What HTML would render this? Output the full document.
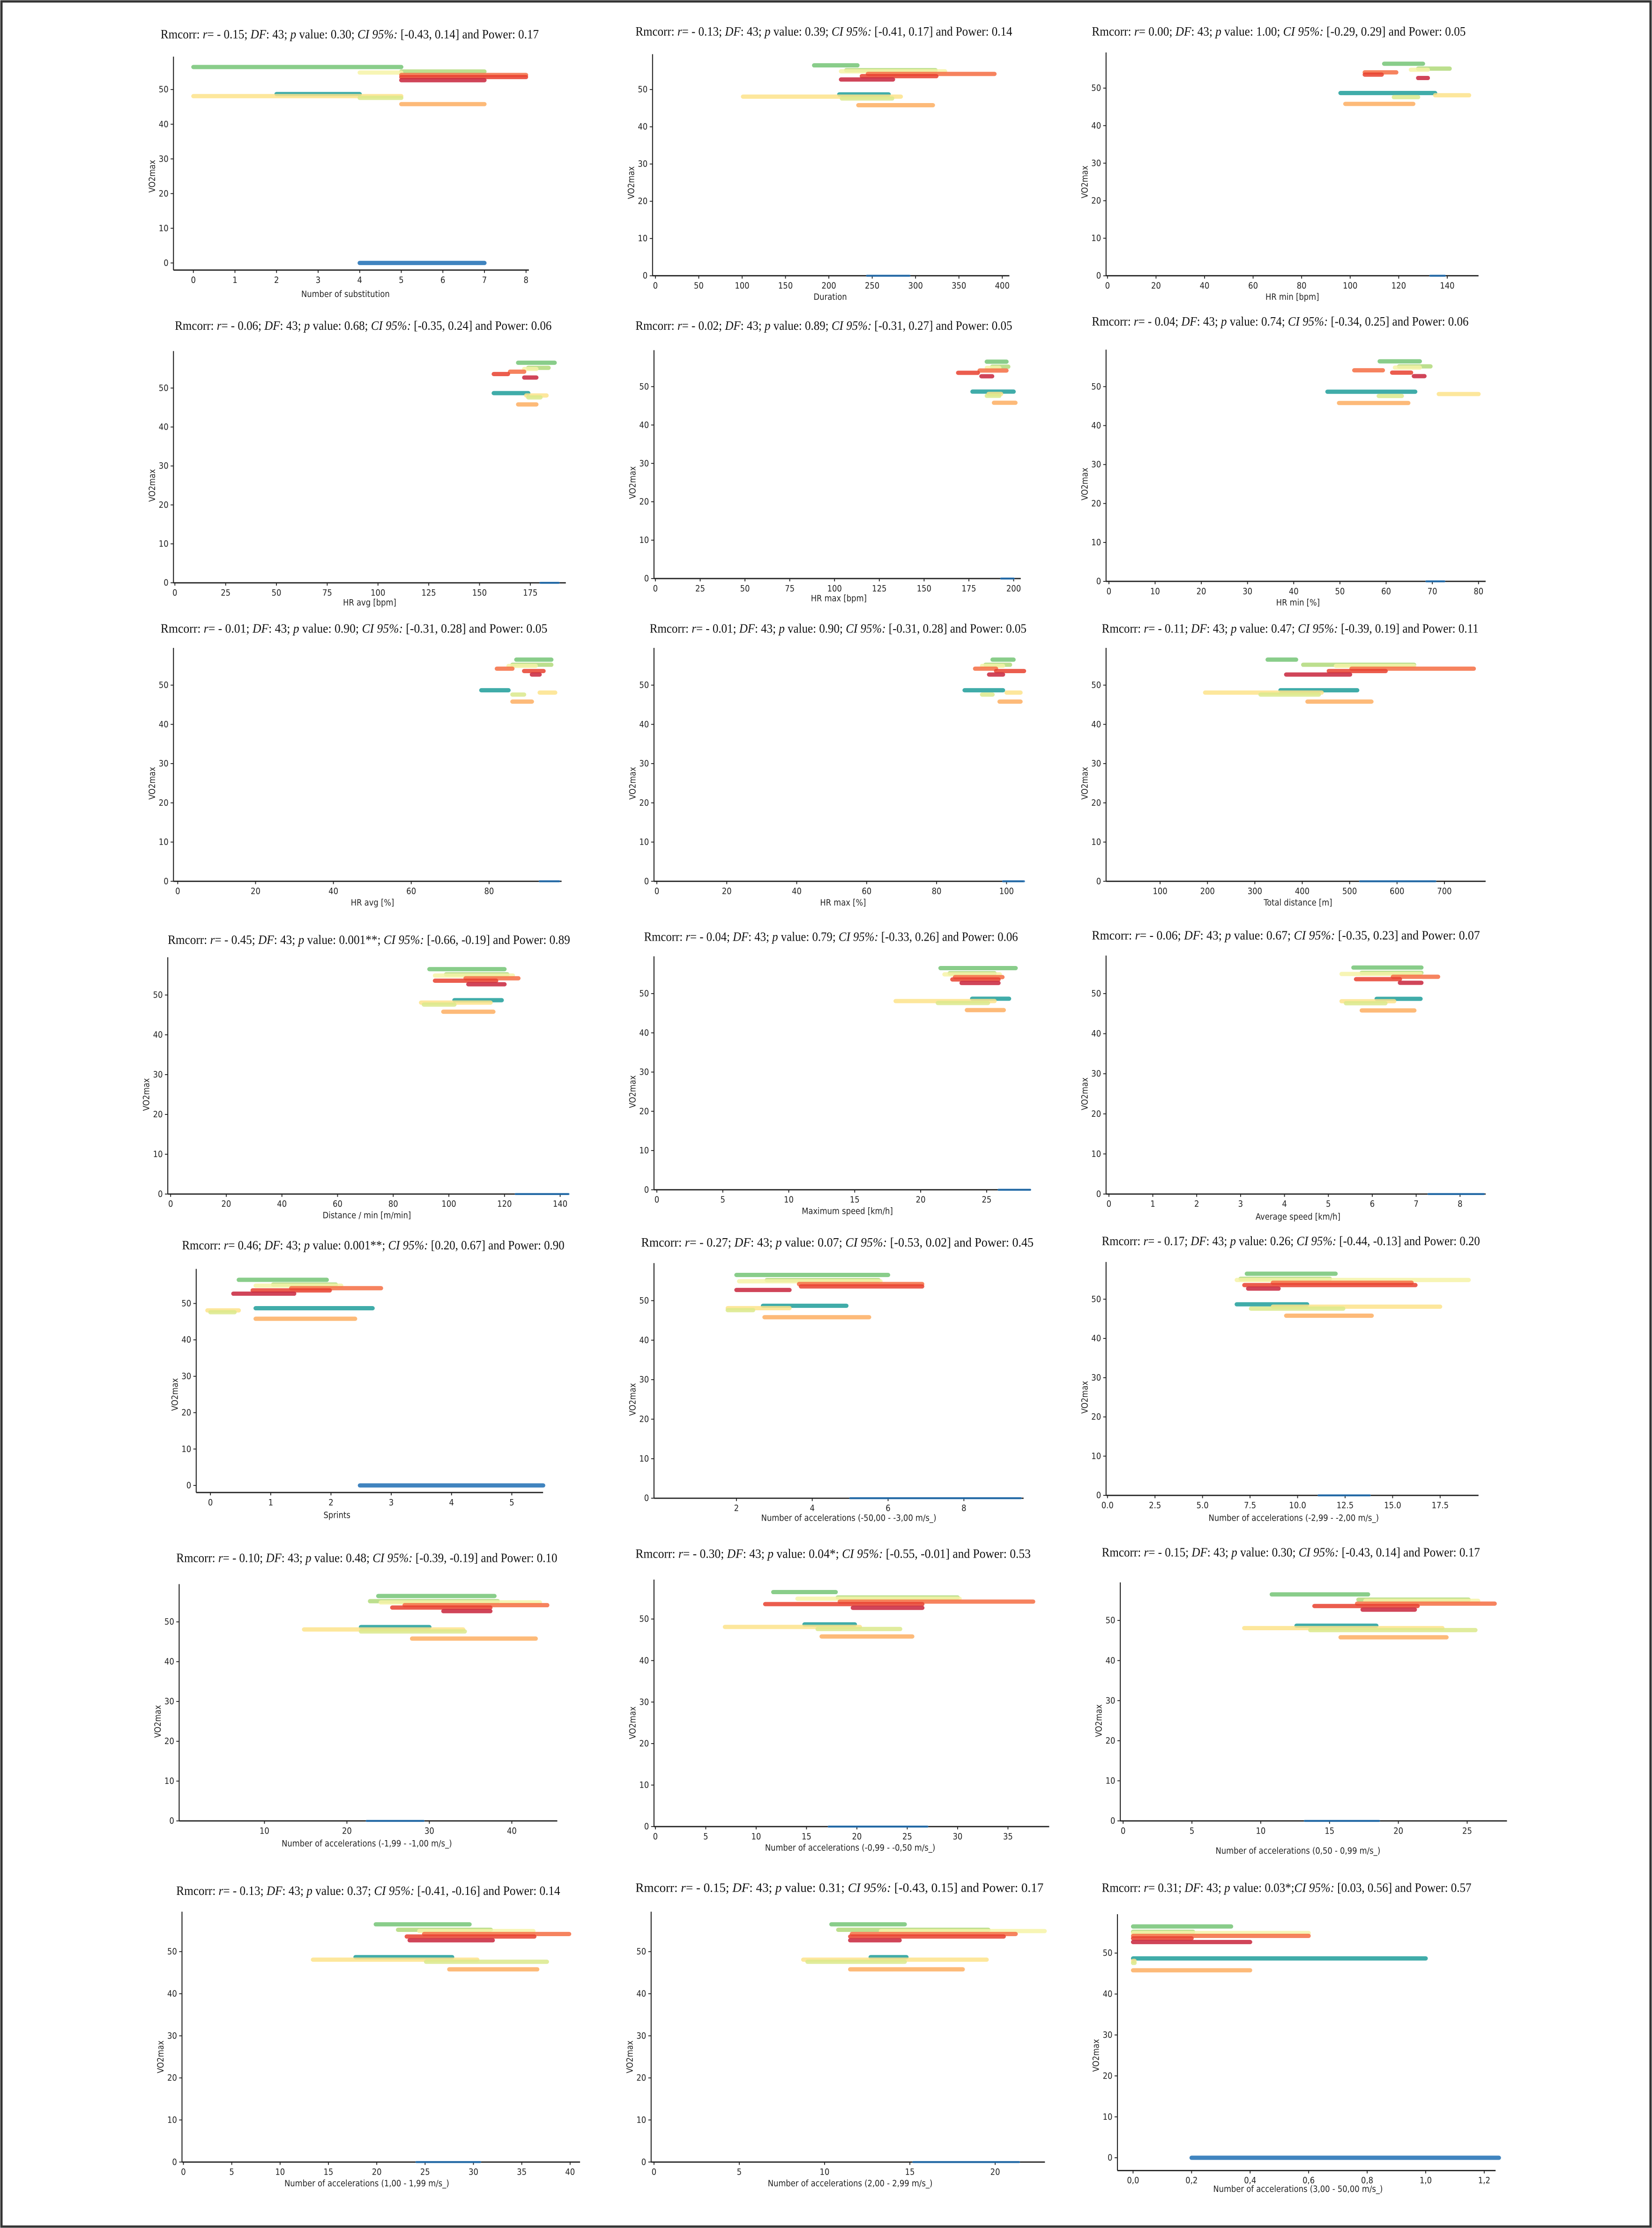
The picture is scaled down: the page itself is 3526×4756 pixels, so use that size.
<!DOCTYPE html>
<html><head><meta charset="utf-8"><style>
html,body{margin:0;padding:0;background:#fff;}
svg{display:block;}
</style></head><body>
<svg id="fig" xmlns="http://www.w3.org/2000/svg" width="3526" height="4756" viewBox="0 0 1162 1567.4">
<rect x="1" y="1" width="1160" height="1565.4" fill="#fff" stroke="#333" stroke-width="1.6"/>
</svg>
<script>
// ---- data ----
const seriesY = [56.5, 55.2, 54.9, 54.2, 53.6, 52.7, 48.7, 48.1, 47.6, 45.8, 0];
const seriesColors = ['#74c476','#b0d97a','#f6f3a8','#f46d43','#e8412f','#c8243c','#1f9e9a','#fde38b','#dbe98c','#fdae61','#1f6fb4'];
const yTicks = [0, 10, 20, 30, 40, 50];
const rVals = ['- 0.15','- 0.13','0.00','- 0.06','- 0.02','- 0.04','- 0.01','- 0.01','- 0.11','- 0.45','- 0.04','- 0.06','0.46','- 0.27','- 0.17','- 0.10','- 0.30','- 0.15','- 0.13','- 0.15','0.31'];
const pVals = ['0.30','0.39','1.00','0.68','0.89','0.74','0.90','0.90','0.47','0.001**','0.79','0.67','0.001**','0.07','0.26','0.48','0.04*','0.30','0.37','0.31','0.03*'];
const ciVals = ['-0.43, 0.14','-0.41, 0.17','-0.29, 0.29','-0.35, 0.24','-0.31, 0.27','-0.34, 0.25','-0.31, 0.28','-0.31, 0.28','-0.39, 0.19','-0.66, -0.19','-0.33, 0.26','-0.35, 0.23','0.20, 0.67','-0.53, 0.02','-0.44, -0.13','-0.39, -0.19','-0.55, -0.01','-0.43, 0.14','-0.41, -0.16','-0.43, 0.15','0.03, 0.56'];
const powerVals = ['0.17','0.14','0.05','0.06','0.05','0.06','0.05','0.05','0.11','0.89','0.06','0.07','0.90','0.45','0.20','0.10','0.53','0.17','0.14','0.17','0.57'];
const xLabels = ['Number of substitution','Duration','HR min [bpm]','HR avg [bpm]','HR max [bpm]','HR min [%]','HR avg [%]','HR max [%]','Total distance [m]','Distance / min [m/min]','Maximum speed [km/h]','Average speed [km/h]','Sprints','Number of accelerations (-50,00 - -3,00 m/s_)','Number of accelerations (-2,99 - -2,00 m/s_)','Number of accelerations (-1,99 - -1,00 m/s_)','Number of accelerations (-0,99 - -0,50 m/s_)','Number of accelerations (0,50 - 0,99 m/s_)','Number of accelerations (1,00 - 1,99 m/s_)','Number of accelerations (2,00 - 2,99 m/s_)','Number of accelerations (3,00 - 50,00 m/s_)'];
const xTickVals = [
 [0,1,2,3,4,5,6,7,8],[0,50,100,150,200,250,300,350,400],[0,20,40,60,80,100,120,140],
 [0,25,50,75,100,125,150,175],[0,25,50,75,100,125,150,175,200],[0,10,20,30,40,50,60,70,80],
 [0,20,40,60,80],[0,20,40,60,80,100],[100,200,300,400,500,600,700],
 [0,20,40,60,80,100,120,140],[0,5,10,15,20,25],[0,1,2,3,4,5,6,7,8],
 [0,1,2,3,4,5],[2,4,6,8],[0,2.5,5,7.5,10,12.5,15,17.5],
 [10,20,30,40],[0,5,10,15,20,25,30,35],[0,5,10,15,20,25],
 [0,5,10,15,20,25,30,35,40],[0,5,10,15,20],[0,0.2,0.4,0.6,0.8,1.0,1.2]];
const xTickLabels = [
 null,null,null,null,null,null,null,null,null,null,null,null,null,null,
 ['0.0','2.5','5.0','7.5','10.0','12.5','15.0','17.5'],null,null,null,null,null,
 ['0,0','0,2','0,4','0,6','0,8','1,0','1,2']];
// segments per panel: [xmin,xmax] for each series (same order as seriesY)
const panelSegs = [
 [[0,5],[5,7],[4,5],[5,8],[5,8],[5,7],[2,4],[0,5],[4,5],[5,7],[4,7]],
 [[183,233],[220,323],[214,334],[245,391],[238,324],[214,274],[212,269],[101,283],[215,273],[234,320],[244,293]],
 [[114,130],[128,141],[125,132],[106,119],[106,113],[128,132],[96,135],[135,149],[118,128],[98,126],[133,139]],
 [[169,187],[174,184],[172,178],[165,172],[157,164],[172,178],[157,174],[173,183],[174,180],[169,178],[180,189]],
 [[185,196],[188,197],[185,192],[181,196],[169,180],[182,188],[177,200],[186,193],[185,192],[189,201],[193,200]],
 [[58.6,67.3],[62.8,69.6],[61.9,67.3],[53.1,59.3],[61.3,65.4],[66,68.3],[47.3,66.3],[71.4,80],[58.4,63.4],[49.8,64.8],[68.7,72.6]],
 [[87,96],[86,96],[85,92],[82,86],[89,94],[91,93],[78,85],[93,97],[86,89],[86,91],[93,98]],
 [[96,102],[94,101],[93,99],[91,97],[97,105],[95,99],[88,99],[100,104],[93,96],[98,104],[99,105]],
 [[327,387],[402,636],[471,636],[504,762],[456,576],[366,501],[354,516],[195,441],[312,435],[411,546],[522,681]],
 [[93,120],[99,121],[95,123],[106,125],[95,117],[107,120],[102,119],[90,115],[91,102],[98,116],[124,143]],
 [[21.5,27.2],[22.2,25.6],[21.8,26],[22.6,26.2],[22.4,25.9],[23.1,25.9],[23.9,26.7],[18.1,25.6],[21.3,25.1],[23.5,26.3],[25.9,28.3]],
 [[5.57,7.12],[5.76,7.12],[5.3,7.1],[6.47,7.5],[5.63,6.63],[6.63,7.12],[6.1,7.1],[5.3,6.5],[5.4,6.3],[5.76,6.96],[7.28,8.54]],
 [[0.47,1.93],[1.04,2.08],[0.75,2.17],[1.34,2.83],[0.7,1.98],[0.38,1.39],[0.75,2.69],[-0.05,0.47],[0,0.4],[0.75,2.4],[2.48,5.52]],
 [[2,6],[2.8,5.75],[2.07,5.8],[3.65,6.9],[3.7,6.9],[2,3.4],[2.7,4.9],[1.77,3.4],[1.77,2.44],[2.74,5.5],[5,9.5]],
 [[7.33,12],[7,11.7],[6.8,19],[8.7,16],[7.2,16.2],[7.4,9],[6.8,10.5],[8.7,17.5],[7.55,12.4],[9.4,13.9],[11.1,13.8]],
 [[23.8,37.9],[22.8,38.3],[24.1,43.4],[27,44.3],[25.5,37.4],[31.7,37.4],[21.7,30],[14.8,34.1],[21.7,34.3],[27.9,42.9],[22.4,29.3]],
 [[11.7,17.9],[18.1,30],[14.1,30.2],[18.3,37.5],[10.9,26.5],[19.6,26.5],[14.8,19.8],[6.9,20.3],[16.1,24.3],[16.5,25.5],[17.2,27]],
 [[10.8,17.8],[17.1,25.1],[17.6,25.8],[17,27],[13.9,21.4],[17.4,21.2],[12.6,18.4],[8.8,23.2],[13.6,25.6],[15.8,23.5],[13.2,18.6]],
 [[19.9,29.6],[22.2,31.8],[24.4,36.2],[24.9,39.9],[23.1,36.3],[23.4,32],[17.8,27.8],[13.4,30.4],[25.1,37.6],[27.5,36.6],[24.1,30.7]],
 [[10.4,14.7],[10.8,19.6],[13.3,22.9],[11.6,21.2],[11.5,20.5],[11.5,14.4],[12.7,14.8],[8.75,19.5],[9,14.7],[11.5,18.1],[15.2,21.4]],
 [[0,0.335],[0,0.205],[0,0.6],[0,0.6],[0,0.2],[0,0.4],[0,1.0],[0,0.005],[0,0.005],[0,0.4],[0.2,1.25]]];

// ---- layout (downscaled px units) ----
// [titleX,titleY,titleW, L, R, axisY, y0px, y50px, firstTickPx, lastTickPx, xLabelX, xLabelY]
const layout = [
 [113,27,266,122,372,190,185,63,136,370,243,209],
 [447,25,265,459,710,194,194,63,461,705,584,211],
 [768,25,263,778,1040,194,194,62,779,1018,909,211],
 [123,232,265,122,398,410,410,273,123,373,260,426],
 [447,232,265,460,718,407,407,272,461,713,590,423],
 [768,229,265,778,1045,409,409,272,780,1040,913,426],
 [113,445,272,122,395,620,620,482,125,344,262,637],
 [457,445,265,460,720,620,620,482,462,708,593,637],
 [775,445,265,778,1045,620,620,482,816,1016,913,637],
 [118,664,283,118,400,840,840,700,120,394,258,857],
 [453,662,263,460,725,837,837,699,462,694,596,854],
 [768,661,273,778,1045,840,840,699,780,1027,913,858],
 [128,879,269,138,382,1050,1045,917,148,360,237,1068],
 [451,877,276,460,720,1054,1054,915,518,678,597,1070],
 [775,876,266,778,1040,1052,1052,914,779,1013,910,1070],
 [124,1099,268,126,392,1281,1281,1141,186,360,258,1299],
 [447,1096,278,460,738,1285,1285,1139,461,709,598,1302],
 [775,1095,266,788,1060,1281,1281,1140,790,1032,913,1304],
 [124,1333,270,128,408,1521,1521,1373,129,401,258,1538],
 [447,1331,287,458,735,1521,1521,1373,460,700,598,1538],
 [775,1331,260,786,1052,1527,1518,1374,797,1044,913,1542]];

const NS='http://www.w3.org/2000/svg';
const svg=document.getElementById('fig');
function mk(tag,attrs,parent){const e=document.createElementNS(NS,tag);for(const k in attrs)e.setAttribute(k,attrs[k]);(parent||svg).appendChild(e);return e;}
const sans='"DejaVu Sans Condensed","DejaVu Sans","Liberation Sans",sans-serif';
const serif='"Liberation Serif",serif';

layout.forEach((Lp,i)=>{
  const [tx,ty,tw,L,R,axY,y0,y50,f0,f1,lx,ly]=Lp;
  const ticks=xTickVals[i];
  const v0=ticks[0],v1=ticks[ticks.length-1];
  const xs=v=>f0+(v-v0)*(f1-f0)/(v1-v0);
  const ys=v=>y0-v*(y0-y50)/50;
  const g=mk('g',{});
  
  
  const t=mk('text',{x:tx,y:ty,'font-family':serif,'font-size':9.2,fill:'#111',textLength:tw,lengthAdjust:'spacingAndGlyphs'},g);
  
  
  const parts=[['Rmcorr:  ',0],['r',1],['= '+rVals[i]+'; ',0],['DF',1],[': 43;  ',0],['p',1],[' value: '+pVals[i]+(i===20?';':'; '),0],['CI 95%:',1],[' ['+ciVals[i]+'] and Power: '+powerVals[i],0]];
  parts.forEach(p=>{const s=mk('tspan',p[1]?{'font-style':'italic'}:{},t);s.textContent=p[0];});
  const ya=mk('line',{x1:L,y1:axY,x2:L,y2:ys(59.5),stroke:'#222','stroke-width':0.7},g);
  
  
  yTicks.forEach(v=>{
    const yy=ys(v);
    mk('line',{x1:L-2,y1:yy,x2:L,y2:yy,stroke:'#222','stroke-width':0.6},g);
    const tl=mk('text',{x:L-3.5,y:yy+2,'text-anchor':'end','font-family':sans,'font-size':6,fill:'#222'},g);
    
    
    tl.textContent=v;
  });
  const yl=mk('text',{x:0,y:0,transform:'translate('+(L-13)+','+ys(25)+') rotate(-90)','text-anchor':'middle','font-family':sans,'font-size':6,fill:'#222'},g);
  
  
  yl.textContent='VO2max';
  const xa=mk('line',{x1:L,y1:axY,x2:R,y2:axY,stroke:'#222','stroke-width':0.9},g);
  
  
  ticks.forEach((v,k)=>{
    const xx=xs(v);
    mk('line',{x1:xx,y1:axY,x2:xx,y2:axY+2,stroke:'#222','stroke-width':0.6},g);
    const tl=mk('text',{x:xx,y:axY+9,'text-anchor':'middle','font-family':sans,'font-size':6,fill:'#222'},g);
    
    
    tl.textContent=xTickLabels[i]?xTickLabels[i][k]:String(v);
  });
  const xl=mk('text',{x:lx,y:ly,'text-anchor':'middle','font-family':sans,'font-size':6,fill:'#222'},g);
  
  
  xl.textContent=xLabels[i];
  const onAxis = (axY === y0);
  panelSegs[i].forEach((s,k)=>{
    const yy=ys(seriesY[k]);
    const w = (k===10 && onAxis) ? 1.4 : 3;
    const ln=mk('line',{x1:xs(s[0]),y1:yy,x2:xs(s[1]),y2:yy,stroke:seriesColors[k],'stroke-width':w,'stroke-linecap':'round','stroke-opacity':0.85},g);
    
    
  });
});
</script>
</body></html>
